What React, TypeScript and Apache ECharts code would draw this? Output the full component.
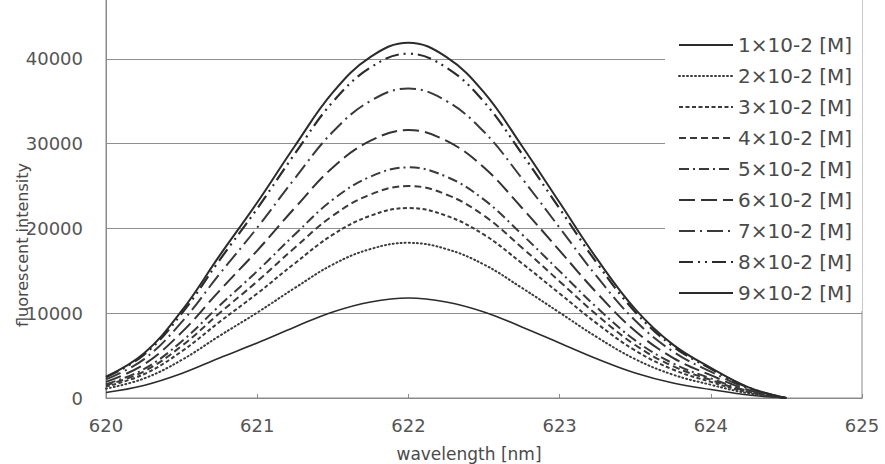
import React, { useEffect, useRef } from "react";
import * as echarts from "echarts";

// wavelength [nm]
const wavelengths = [
  620, 620.25, 620.5, 620.75, 621, 621.25, 621.5, 621.75, 622, 622.25, 622.5,
  622.75, 623, 623.25, 623.5, 623.75, 624, 624.25, 624.5,
];

const seriesNames = [
  "1×10-2 [M]",
  "2×10-2 [M]",
  "3×10-2 [M]",
  "4×10-2 [M]",
  "5×10-2 [M]",
  "6×10-2 [M]",
  "7×10-2 [M]",
  "8×10-2 [M]",
  "9×10-2 [M]",
];

const yTickValues = [0, 10000, 20000, 30000, 40000];

const c1 = [650, 1480, 2890, 4720, 6490, 8380, 10150, 11330, 11800, 11330, 10150, 8380, 6490, 4600, 2950, 1770, 1000, 350, 0];
const c2 = [1100, 2290, 4480, 7320, 10070, 12990, 15740, 17570, 18300, 17570, 15740, 12990, 10070, 7140, 4580, 2750, 1560, 550, 0];
const c3 = [1340, 2800, 5490, 8960, 12320, 15900, 19260, 21500, 22400, 21500, 19260, 15900, 12320, 8740, 5600, 3360, 1900, 670, 0];
const c4 = [1500, 3130, 6130, 10000, 13750, 17750, 21500, 24000, 25000, 24000, 21500, 17750, 13750, 9750, 6250, 3750, 2130, 750, 0];
const c5 = [1630, 3400, 6660, 10880, 14960, 19310, 23390, 26110, 27200, 26110, 23390, 19310, 14960, 10610, 6800, 4080, 2310, 820, 0];
const c6 = [1900, 3950, 7740, 12640, 17380, 22440, 27180, 30340, 31600, 30340, 27180, 22440, 17380, 12320, 7900, 4740, 2690, 950, 0];
const c7 = [2190, 4560, 8940, 14600, 20080, 25920, 31390, 35040, 36500, 35040, 31390, 25920, 20080, 14240, 9130, 5480, 3100, 1100, 0];
const c8 = [2440, 5080, 9950, 16240, 22330, 28830, 34920, 38980, 40600, 38980, 34920, 28830, 22330, 15830, 10150, 6090, 3450, 1220, 0];
const c9 = [2510, 5240, 10270, 16760, 23050, 29750, 36030, 40220, 41900, 40220, 36030, 29750, 23050, 16340, 10480, 6290, 3560, 1260, 0];

const allSeries = [c1, c2, c3, c4, c5, c6, c7, c8, c9];

const lineStyles: any[] = [
  { type: "solid", width: 1.6, color: "#2b2b2b" },
  { type: [1, 3], width: 2, color: "#3a3a3a", cap: "round" },
  { type: [4, 2.5], width: 2, color: "#3a3a3a" },
  { type: [7, 4], width: 2, color: "#3a3a3a" },
  { type: [10, 4, 2, 4], width: 2, color: "#3a3a3a" },
  { type: [16, 6], width: 2, color: "#333333" },
  { type: [16, 5, 2, 5], width: 2, color: "#3a3a3a" },
  { type: [14, 5, 2, 5, 2, 5], width: 2.2, color: "#2b2b2b" },
  { type: "solid", width: 2, color: "#2b2b2b" },
];

const FONT = "DejaVu Sans";
const SHIFT = 26; // chart extends above the visible page top

export default function App() {
  const ref = useRef<HTMLDivElement>(null);
  useEffect(() => {
    document.body.style.margin = "0";
    document.body.style.overflow = "hidden";
    if (!ref.current) return;
    const chart = echarts.init(ref.current, undefined, { renderer: "svg" });
    chart.setOption({
      animation: false,
      backgroundColor: "#fff",
      grid: {
        left: 106,
        right: 23,
        top: 0,
        bottom: 66,
        show: true,
        borderColor: "#8a8a8a",
        borderWidth: 1,
        containLabel: false,
        outerBoundsMode: "none",
      },
      legend: {
        orient: "vertical",
        left: 665,
        top: 0,
        padding: [35 + SHIFT, 10, 8, 13],
        backgroundColor: "#fff",
        itemWidth: 54,
        itemHeight: 14,
        itemGap: 11,
        itemStyle: { opacity: 0 },
        textStyle: { fontFamily: FONT, fontSize: 20, color: "#4a4a4a", lineHeight: 20 },
        data: seriesNames,
      },
      xAxis: {
        type: "value",
        min: 620,
        max: 625,
        interval: 1,
        name: "wavelength [nm]",
        nameLocation: "middle",
        nameGap: 47,
        nameTextStyle: { fontFamily: FONT, fontSize: 17, color: "#4a4a4a", padding: [0, 30, 0, 0] },
        axisLine: { show: true, lineStyle: { color: "#8a8a8a", width: 1 } },
        axisTick: { show: true, inside: true, length: 4, lineStyle: { color: "#8a8a8a" } },
        axisLabel: { fontFamily: FONT, fontSize: 18, color: "#555", margin: 18 },
        splitLine: { show: false },
      },
      yAxis: {
        type: "value",
        min: 0,
        max: 50000,
        interval: 10000,
        axisLine: { show: true, lineStyle: { color: "#8a8a8a", width: 1 } },
        axisTick: { show: false },
        axisLabel: {
          fontFamily: FONT,
          fontSize: 18,
          color: "#555",
          margin: 23,
          showMaxLabel: false,
          formatter: (v: number) => (yTickValues.includes(v) ? String(v) : ""),
        },
        splitLine: { show: true, lineStyle: { color: "#8f8f8f", width: 1 } },
      },
      graphic: [
        {
          type: "text",
          x: 22,
          y: 245 + SHIFT,
          rotation: Math.PI / 2,
          style: {
            text: "fluorescent intensity",
            fontFamily: FONT,
            fontSize: 16,
            fill: "#4a4a4a",
            align: "center",
            verticalAlign: "middle",
          },
        },
      ],
      series: allSeries.map((vals, i) => ({
        name: seriesNames[i],
        type: "line",
        smooth: 0.4,
        symbol: "none",
        lineStyle: lineStyles[i],
        itemStyle: { color: lineStyles[i].color },
        data: wavelengths.map((w, j) => [w, vals[j]]),
        z: 2,
      })),
    });
    return () => chart.dispose();
  }, []);
  return (
    <div
      ref={ref}
      style={{ width: 885, height: 464 + SHIFT, position: "relative", top: -SHIFT }}
    />
  );
}
